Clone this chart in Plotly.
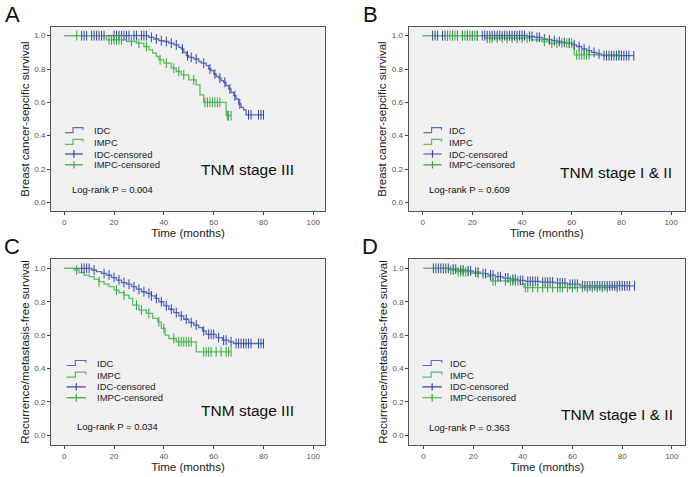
import plotly.graph_objects as go

# ---------------- data ----------------
# Panel A: breast cancer-specific survival, TNM stage III
A_idc_t = [0, 34, 36, 38, 40, 42, 44, 46, 47, 48, 49, 50, 52, 54, 55, 57, 58, 59, 60, 61, 62, 63, 64, 65, 66, 67, 68, 69, 70, 71, 72, 73]
A_idc_s = [1.0, 0.99, 0.98, 0.97, 0.965, 0.955, 0.945, 0.93, 0.92, 0.90, 0.88, 0.87, 0.86, 0.845, 0.835, 0.82, 0.80, 0.79, 0.77, 0.755, 0.745, 0.73, 0.72, 0.70, 0.68, 0.66, 0.64, 0.62, 0.59, 0.57, 0.555, 0.525]
A_idc_end = 80
A_idc_cens = [7, 8, 9, 11, 12, 13, 14, 15, 16, 20, 21, 22, 23, 24, 25, 26, 28, 29, 31, 32, 33, 35, 37, 39, 41, 43, 45, 47.5, 49.5, 51, 53, 56, 58.5, 60.5, 62.5, 64.5, 66.5, 68.5, 70.5, 74, 75, 78, 79, 80]
A_impc_t = [0, 17, 25, 29, 32, 34, 35.5, 37, 38, 40, 43, 45, 47, 50, 53, 54.5, 56, 65]
A_impc_s = [1.0, 0.975, 0.965, 0.955, 0.935, 0.915, 0.895, 0.875, 0.855, 0.835, 0.805, 0.785, 0.765, 0.735, 0.705, 0.645, 0.60, 0.52]
A_impc_end = 67
A_impc_cens = [5, 18, 19, 20, 21, 22, 23, 27, 30, 33, 38.5, 41, 44, 46, 48, 52, 56.5, 57.5, 58.5, 59.5, 60.5, 61.5, 62.5, 65.5, 66, 67]

# Panel B: breast cancer-specific survival, TNM stage I & II
B_idc_t = [0, 42, 45, 48, 50, 52, 54, 56, 58, 60, 62, 64, 66, 68, 70, 72]
B_idc_s = [1.0, 0.995, 0.99, 0.98, 0.975, 0.97, 0.965, 0.96, 0.955, 0.945, 0.935, 0.92, 0.91, 0.90, 0.89, 0.88]
B_idc_end = 85
B_idc_cens = [4, 5, 6, 8, 9, 10, 12, 14, 16, 18, 20, 22, 24, 25, 26, 27, 28, 29, 30, 31, 32, 33, 34, 35, 36, 37, 38, 39, 40, 41, 43, 44, 46, 47, 49, 51, 53, 55, 57, 59, 61, 63, 65, 67, 69, 71, 73, 74, 75, 76, 77, 78, 79, 80, 81, 82, 83, 85]
B_impc_t = [0, 25, 44, 48, 51, 61]
B_impc_s = [1.0, 0.985, 0.975, 0.965, 0.955, 0.885]
B_impc_end = 79
B_impc_cens = [10, 11, 12, 13, 14, 16, 17, 18, 19, 20, 21, 22, 26, 27, 28, 30, 32, 34, 36, 38, 40, 42, 49, 52, 54, 56, 58, 59, 60, 62, 63, 64, 65, 66, 67, 79]

# Panel C: recurrence/metastasis-free survival, TNM stage III
C_idc_t = [0, 11, 13, 15, 17, 19, 21, 23, 25, 27, 29, 31, 33, 35, 36.5, 38, 40, 42, 44, 46, 48, 50, 52, 54, 55.5, 57, 61, 63.5, 66, 68]
C_idc_s = [1.0, 0.99, 0.98, 0.97, 0.96, 0.945, 0.93, 0.915, 0.905, 0.89, 0.875, 0.86, 0.85, 0.835, 0.82, 0.80, 0.775, 0.755, 0.735, 0.715, 0.695, 0.675, 0.66, 0.645, 0.625, 0.605, 0.585, 0.57, 0.56, 0.55]
C_idc_end = 80
C_idc_cens = [7, 8, 9, 10, 12, 16, 18, 20, 22, 24, 26, 28, 30, 32, 34, 35, 37, 39, 41, 43, 45, 47, 49, 51, 53, 56, 58, 59, 60, 62, 64, 65, 67, 69, 70, 71, 72, 73, 74, 75, 78, 79, 80]
C_impc_t = [0, 4, 6, 8, 10, 12, 14, 16, 18, 20, 22, 24, 26, 27.5, 30, 33, 35.5, 37.5, 39, 40.5, 42, 45, 53]
C_impc_s = [1.0, 0.99, 0.975, 0.96, 0.95, 0.935, 0.92, 0.905, 0.89, 0.87, 0.855, 0.84, 0.82, 0.78, 0.75, 0.73, 0.70, 0.68, 0.64, 0.60, 0.58, 0.56, 0.50]
C_impc_end = 67
C_impc_cens = [5, 14, 21, 24, 29, 31, 34, 38, 40, 44, 46, 47, 48, 49, 50, 51, 56, 57, 58, 59, 61, 63, 65, 66, 67]

# Panel D: recurrence/metastasis-free survival, TNM stage I & II
D_idc_t = [0, 11, 14, 17, 20, 23, 26, 29, 32, 35, 38, 41, 47, 53, 58, 63]
D_idc_s = [1.0, 0.995, 0.99, 0.985, 0.977, 0.968, 0.96, 0.95, 0.942, 0.935, 0.928, 0.922, 0.918, 0.912, 0.905, 0.895]
D_idc_end = 85
D_idc_cens = [4, 5, 6, 7, 8, 9, 10, 12, 13, 15, 16, 18, 19, 21, 22, 24, 25, 27, 28, 30, 31, 33, 34, 36, 37, 39, 40, 42, 43, 44, 45, 46, 48, 49, 50, 51, 52, 54, 55, 56, 57, 59, 60, 61, 62, 64, 65, 66, 67, 68, 69, 70, 71, 72, 73, 74, 75, 76, 77, 78, 79, 80, 81, 82, 83, 85]
D_impc_t = [0, 10, 13, 19, 25, 27, 39, 40.5]
D_impc_s = [1.0, 0.99, 0.98, 0.97, 0.95, 0.925, 0.905, 0.885]
D_impc_end = 78
D_impc_cens = [11, 12, 14, 15, 16, 17, 18, 22, 28, 29, 33, 35, 36, 37, 38, 41, 42, 44, 46, 48, 50, 52, 54, 55, 56, 58, 60, 62, 64, 66, 68, 70, 72, 74, 78]

panel_letters = ["A", "B", "C", "D"]
y_titles = ["Breast cancer-sepcific survival", "Breast cancer-sepcific survival",
            "Recurrence/metastasis-free survival", "Recurrence/metastasis-free survival"]
x_title = "Time (months)"
stage_labels = ["TNM stage III", "TNM stage I & II", "TNM stage III", "TNM stage I & II"]
logrank_labels = ["Log-rank P = 0.004", "Log-rank P = 0.609", "Log-rank P = 0.034", "Log-rank P = 0.363"]
legend_names = ["IDC", "IMPC", "IDC-censored", "IMPC-censored"]
x_ticks = [0, 20, 40, 60, 80, 100]
y_ticks = [0.0, 0.2, 0.4, 0.6, 0.8, 1.0]

panels = [
    (A_idc_t, A_idc_s, A_idc_end, A_idc_cens, A_impc_t, A_impc_s, A_impc_end, A_impc_cens),
    (B_idc_t, B_idc_s, B_idc_end, B_idc_cens, B_impc_t, B_impc_s, B_impc_end, B_impc_cens),
    (C_idc_t, C_idc_s, C_idc_end, C_idc_cens, C_impc_t, C_impc_s, C_impc_end, C_impc_cens),
    (D_idc_t, D_idc_s, D_idc_end, D_idc_cens, D_impc_t, D_impc_s, D_impc_end, D_impc_cens),
]

# ---------------- styling / layout ----------------
W, H = 689, 477
IDC_LINE, IDC_MARK = "#5b6ec4", "#3546a6"
IMPC_LINE, IMPC_MARK = "#5cc060", "#35a83a"
FONT = "Liberation Sans, Arial, sans-serif"

# plot-area boxes in pixels: (left, right, top, bottom)
boxes = [(51, 325, 27, 211), (408.5, 685, 27, 211), (51, 325, 259, 445), (409.3, 685, 259, 445)]
x_ranges = [[-5.3, 104.7], [-5.7, 105.6], [-5.3, 104.7], [-5.7, 105.3]]
y_ranges = [[-0.052, 1.052], [-0.052, 1.052], [-0.058, 1.056], [-0.058, 1.056]]
letter_pos = [(12, 15), (370, 15), (12, 246), (370, 246)]
stage_pos = [(73.6, 0.20), (78.0, 0.178), (73.6, 0.15), (78.0, 0.126)]
logrank_pos = [(19.4, 0.08), (19.0, 0.08), (21.4, 0.05), (18.6, 0.045)]
legend_x = [(0.3, 7.5, 11.0), (0.3, 7.6, 9.8), (1.0, 8.7, 12.3), (-0.4, 7.4, 9.7)]
legend_rows = [0.43, 0.36, 0.29, 0.225]


def surv_at(times, surv, t):
    val = surv[0]
    for ti, si in zip(times, surv):
        if ti <= t:
            val = si
    return val


fig = go.Figure()
layout = dict(width=W, height=H, margin=dict(l=0, r=0, t=0, b=0, autoexpand=False),
              paper_bgcolor="white", plot_bgcolor="#f0f0f0", showlegend=False,
              font=dict(family=FONT, color="#222"))
annotations, shapes = [], []

for i, p in enumerate(panels):
    idc_t, idc_s, idc_end, idc_c, impc_t, impc_s, impc_end, impc_c = p
    sfx = "" if i == 0 else str(i + 1)
    xa, ya = "x" + sfx, "y" + sfx
    l, r, t, b = boxes[i]
    layout["xaxis" + sfx] = dict(
        domain=[l / W, r / W], range=x_ranges[i], anchor=ya, automargin=False,
        tickvals=x_ticks, ticks="outside", ticklen=3, tickcolor="#444",
        tickfont=dict(size=8, color="#555"), showgrid=False, zeroline=False,
        showline=True, linecolor="#555", linewidth=1, mirror=True,
        title=dict(text=x_title, font=dict(size=11.5, color="#222"), standoff=3))
    layout["yaxis" + sfx] = dict(
        domain=[1 - b / H, 1 - t / H], range=y_ranges[i], anchor=xa, automargin=False,
        tickvals=y_ticks, tickformat=".1f", ticks="outside", ticklen=3, tickcolor="#444",
        tickfont=dict(size=8, color="#555"), showgrid=False, zeroline=False,
        showline=True, linecolor="#555", linewidth=1, mirror=True,
        title=dict(text=y_titles[i], font=dict(size=11.5, color="#222"), standoff=2))

    # KM step curves
    fig.add_trace(go.Scatter(x=idc_t + [idc_end], y=idc_s + [idc_s[-1]], mode="lines",
                             line=dict(color=IDC_LINE, width=1.3, shape="hv"),
                             name=legend_names[0], xaxis=xa, yaxis=ya))
    fig.add_trace(go.Scatter(x=impc_t + [impc_end], y=impc_s + [impc_s[-1]], mode="lines",
                             line=dict(color=IMPC_LINE, width=1.3, shape="hv"),
                             name=legend_names[1], xaxis=xa, yaxis=ya))
    # censored marks
    fig.add_trace(go.Scatter(x=idc_c, y=[surv_at(idc_t, idc_s, c) for c in idc_c], mode="markers",
                             marker=dict(symbol="line-ns-open", size=7, color=IDC_MARK,
                                         line=dict(color=IDC_MARK, width=1)),
                             name=legend_names[2], xaxis=xa, yaxis=ya))
    fig.add_trace(go.Scatter(x=impc_c, y=[surv_at(impc_t, impc_s, c) for c in impc_c], mode="markers",
                             marker=dict(symbol="line-ns-open", size=7, color=IMPC_MARK,
                                         line=dict(color=IMPC_MARK, width=1)),
                             name=legend_names[3], xaxis=xa, yaxis=ya))

    # panel letter
    lx, ly = letter_pos[i]
    annotations.append(dict(text=panel_letters[i], x=lx / W, y=1 - ly / H, xref="paper", yref="paper",
                            showarrow=False, font=dict(size=22, color="#111"), xanchor="center", yanchor="middle"))
    # stage and log-rank text
    sx, sy = stage_pos[i]
    annotations.append(dict(text=stage_labels[i], x=sx, y=sy, xref=xa, yref=ya, showarrow=False,
                            font=dict(size=15.5, color="#111"), xanchor="center", yanchor="middle"))
    gx, gy = logrank_pos[i]
    annotations.append(dict(text=logrank_labels[i], x=gx, y=gy, xref=xa, yref=ya, showarrow=False,
                            font=dict(size=9.5, color="#111"), xanchor="center", yanchor="middle"))

    # manual legend
    x0, x1, xt = legend_x[i]
    cols = [IDC_LINE, IMPC_LINE, IDC_MARK, IMPC_MARK]
    for k, name in enumerate(legend_names):
        yr = legend_rows[k]
        if k < 2:
            xm = x0 + (x1 - x0) * 0.45
            path = (f"M {x0},{yr - 0.012} L {xm},{yr - 0.012} L {xm},{yr + 0.018} "
                    f"L {x1},{yr + 0.018} L {x1},{yr + 0.004}")
            shapes.append(dict(type="path", path=path, xref=xa, yref=ya,
                               line=dict(color=cols[k], width=1.2)))
        else:
            shapes.append(dict(type="line", x0=x0, x1=x1, y0=yr, y1=yr, xref=xa, yref=ya,
                               line=dict(color=cols[k], width=1.2)))
            xm = (x0 + x1) / 2
            shapes.append(dict(type="line", x0=xm, x1=xm, y0=yr - 0.022, y1=yr + 0.022, xref=xa, yref=ya,
                               line=dict(color=cols[k], width=1.2)))
        annotations.append(dict(text=name, x=xt, y=yr, xref=xa, yref=ya, showarrow=False,
                                font=dict(size=9.5, color="#222"), xanchor="left", yanchor="middle"))

layout["annotations"] = annotations
layout["shapes"] = shapes
fig.update_layout(**layout)
fig.write_html("out.html", config={"displayModeBar": False},
               post_script="document.body.style.margin='0';document.body.style.overflow='hidden';")
